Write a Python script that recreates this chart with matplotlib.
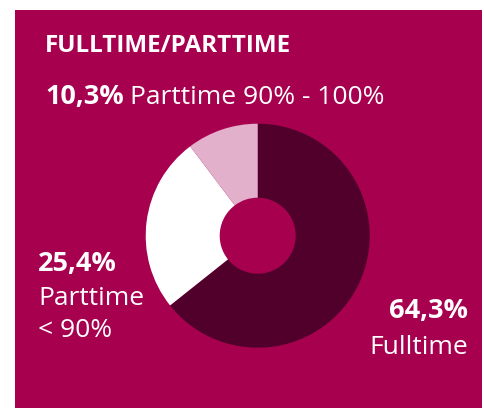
import matplotlib.pyplot as plt
from matplotlib.patches import Rectangle

# data
labels = ['Fulltime', 'Parttime\n< 90%', 'Parttime 90% - 100%']
shares = [64.3, 25.4, 10.3]
share_text = ['64,3%', '25,4%', '10,3%']
title = 'FULLTIME/PARTTIME'

bg = '#A6004F'
colors = ['#50002A', '#FFFFFF', '#E3B0CC']

plt.rcParams['font.family'] = ['Open Sans', 'DejaVu Sans']

W, H = 484, 408
fig = plt.figure(figsize=(W / 100, H / 100), dpi=100)
fig.patch.set_facecolor('white')
fig.patches.append(Rectangle((15 / W, 0), 467 / W, 398 / H, transform=fig.transFigure,
                             facecolor=bg, edgecolor='none', zorder=-10))

# donut
cx, cy, r = 257.7, 235.7, 112
ax = fig.add_axes([(cx - r) / W, (H - cy - r) / H, 2 * r / W, 2 * r / H])
ax.pie(shares, colors=colors, startangle=90, counterclock=False, radius=1,
       wedgeprops=dict(width=1 - 38 / 112, edgecolor='none'))
ax.set_xlim(-1, 1)
ax.set_ylim(-1, 1)
ax.axis('off')

def px(x, y):
    return x / W, 1 - y / H

fs = 19
fsb = 19.5
fig.text(*px(45, 52), title, color='white', fontsize=17.5, fontweight='bold', va='baseline')

# top label
t = fig.text(*px(45, 104), share_text[2], color='white', fontsize=fsb, fontweight='bold', va='baseline')
fig.canvas.draw()
bb = t.get_window_extent()
fig.text(bb.x1 / W + 6 / W, 1 - 104 / H, labels[2], color='white', fontsize=fs, va='baseline')

# left label
fig.text(*px(38, 271), share_text[1], color='white', fontsize=fsb, fontweight='bold', va='baseline')
fig.text(*px(38, 305), 'Parttime', color='white', fontsize=fs, va='baseline')
fig.text(*px(38, 337), '< 90%', color='white', fontsize=fs, va='baseline')

# right label
fig.text(*px(468, 318), share_text[0], color='white', fontsize=fsb, fontweight='bold',
         va='baseline', ha='right')
fig.text(*px(468, 354), labels[0], color='white', fontsize=fs, va='baseline', ha='right')

fig.savefig('out.png', dpi=100, facecolor=fig.get_facecolor())
